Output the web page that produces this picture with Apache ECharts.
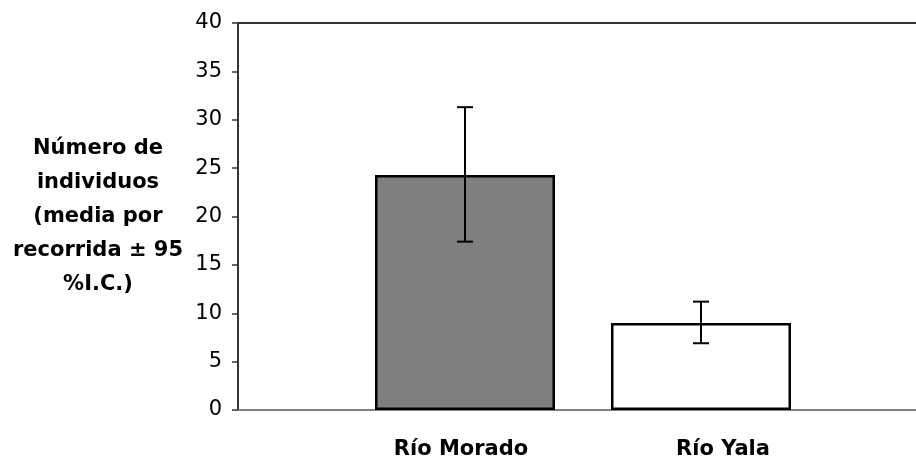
<!DOCTYPE html>
<head>
  <meta charset="utf-8">
  <script src="https://cdn.jsdelivr.net/npm/echarts@6/dist/echarts.min.js"></script>
  <style>
    html,body{margin:0;padding:0;background:#fff;}
    #chart{width:916px;height:466px;}
  </style>
</head>
<body>
  <div id="chart"></div>
  <script>
    // data
    var categories = ['Río Morado', 'Río Yala'];
    var means = [24.3, 9.0];
    var lowerCI = [17.4, 6.9];
    var upperCI = [31.3, 11.2];
    var yTicks = [0, 40, 5];   // min, max, step
    var yTitle = 'Número de\nindividuos\n(media por\nrecorrida ± 95\n%I.C.)';

    var font = 'DejaVu Sans';
    var gridTop = 23, gridBottom = 56;

    var chart = echarts.init(document.getElementById('chart'));

    var hiddenY = function(i){
      return {gridIndex:i, type:'value', min:yTicks[0], max:yTicks[1], interval:yTicks[2], show:false};
    };

    var option = {
      animation:false,
      backgroundColor:'#fff',
      grid:[
        {left:238, right:0, top:gridTop, bottom:gridBottom},   // frame + y axis
        {left:347, right:97, top:gridTop, bottom:gridBottom},  // bars
        {left:330, right:62, top:gridTop, bottom:gridBottom}   // category labels
      ],
      xAxis:[
        {gridIndex:0, type:'value', min:0, max:1, position:'bottom',
          axisLine:{show:true, onZero:false, lineStyle:{color:'#808080', width:2}},
          axisTick:{show:false}, axisLabel:{show:false}, splitLine:{show:false}},
        {gridIndex:0, type:'value', min:0, max:1, position:'top',
          axisLine:{show:true, onZero:false, lineStyle:{color:'#333', width:2}},
          axisTick:{show:false}, axisLabel:{show:false}, splitLine:{show:false}},
        {gridIndex:1, type:'category', data:categories, show:false},
        {gridIndex:2, type:'category', data:categories,
          axisLine:{show:false}, axisTick:{show:false}, splitLine:{show:false},
          axisLabel:{margin:29, fontFamily:font, fontSize:21, fontWeight:'bold', color:'#000'}}
      ],
      yAxis:[
        {gridIndex:0, type:'value', min:yTicks[0], max:yTicks[1], interval:yTicks[2],
          axisLine:{show:true, lineStyle:{color:'#333', width:2}},
          axisTick:{show:true, inside:false, length:6, lineStyle:{color:'#333', width:1.5}},
          axisLabel:{margin:16, fontFamily:font, fontSize:21, color:'#000'},
          splitLine:{show:false},
          name:yTitle, nameLocation:'middle', nameRotate:0, nameGap:140,
          nameTextStyle:{fontFamily:font, fontSize:21, fontWeight:'bold', color:'#000',
            align:'center', verticalAlign:'middle', lineHeight:34}},
        hiddenY(1),
        hiddenY(2)
      ],
      series:[
        {type:'bar', xAxisIndex:2, yAxisIndex:1, barWidth:180,
          data:means.map(function(v,i){
            return {value:v, itemStyle:{color: i===0 ? '#7f7f7f' : '#ffffff'}};
          }),
          itemStyle:{borderColor:'#000', borderWidth:2.5}},
        {type:'custom', xAxisIndex:2, yAxisIndex:1, z:10,
          data:categories.map(function(c,i){ return [i, lowerCI[i], upperCI[i]]; }),
          renderItem:function(params, api){
            var lo = api.coord([api.value(0), api.value(1)]);
            var hi = api.coord([api.value(0), api.value(2)]);
            var cap = 8;
            var st = {stroke:'#000', lineWidth:2};
            return {type:'group', children:[
              {type:'line', shape:{x1:lo[0], y1:lo[1], x2:hi[0], y2:hi[1]}, style:st},
              {type:'line', shape:{x1:lo[0]-cap, y1:lo[1], x2:lo[0]+cap, y2:lo[1]}, style:st},
              {type:'line', shape:{x1:hi[0]-cap, y1:hi[1], x2:hi[0]+cap, y2:hi[1]}, style:st}
            ]};
          }}
      ]
    };
    chart.setOption(option);
  </script>
</body>
